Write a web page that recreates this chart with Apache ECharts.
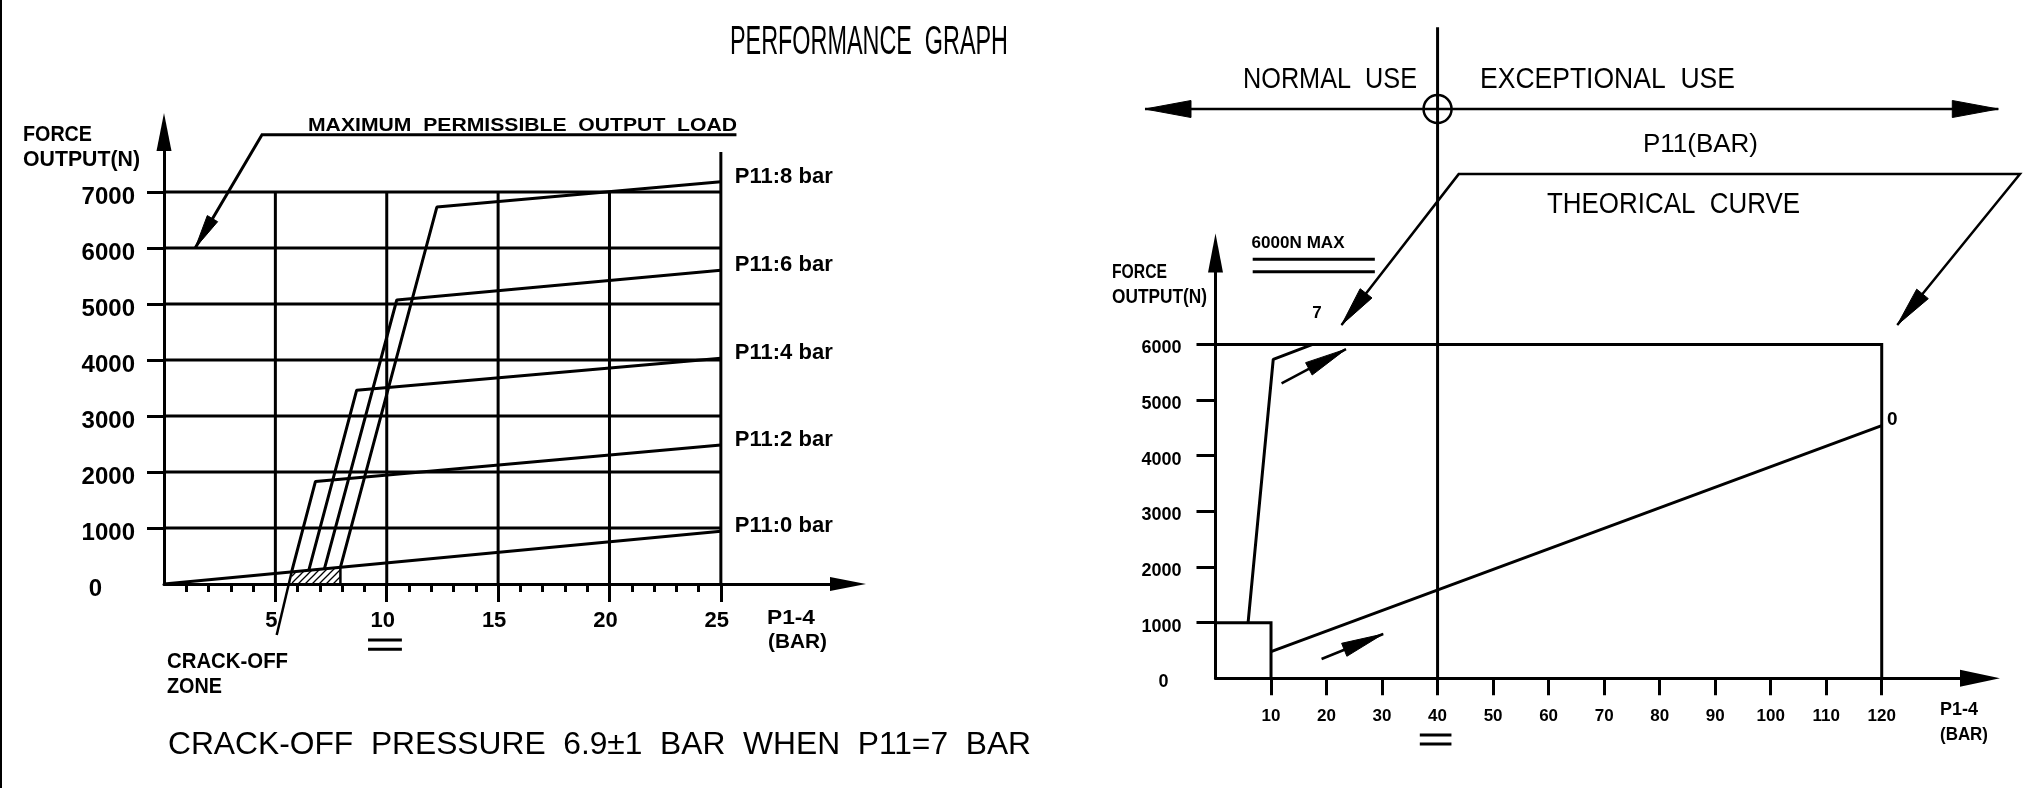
<!DOCTYPE html>
<html>
<head>
<meta charset="utf-8">
<title>Performance graph</title>
<script src="https://cdn.jsdelivr.net/npm/echarts@6/dist/echarts.min.js"></script>
<style>
html, body { margin: 0; padding: 0; background: #fff; }
#main { width: 2033px; height: 788px; }
</style>
</head>
<body>
<div id="main"></div>
<script>
// ---------- left graph : force output vs P1-4, one curve per P11 ----------
var p11Names = ['P11:0 bar', 'P11:2 bar', 'P11:4 bar', 'P11:6 bar', 'P11:8 bar'];
var p11_0 = [[0, 0], [25, 940]];
var p11_2 = [[5.73, 215], [6.8, 1830], [25, 2480]];
var p11_4 = [[6.5, 245], [8.65, 3460], [25, 4030]];
var p11_6 = [[7.2, 270], [10.45, 5070], [25, 5600]];
var p11_8 = [[7.92, 298], [12.25, 6730], [25, 7180]];
var leftXMajor = [5, 10, 15, 20, 25];
var leftXMinor = [1, 2, 3, 4, 5, 6, 7, 8, 9, 10, 11, 12, 13, 14, 15, 16, 17, 18, 19, 20, 21, 22, 23, 24, 25];
var leftYTicks = [0, 1000, 2000, 3000, 4000, 5000, 6000, 7000];
var crackZone = [[5.73, 215], [7.92, 298]];
var crackLeader = [[5.73, 215], [5.06, -910]];
var maxLoadLeader = [[25.7, 8020], [4.4, 8020], [1.4, 6000]];
var leftEqualMark = [[9.16, 10.68], [-1000, -1166]];
var line25Top = 7710;

// ---------- right graph : theoretical curves ----------
var rightXTicks = [10, 20, 30, 40, 50, 60, 70, 80, 90, 100, 110, 120];
var rightYTicks = [0, 1000, 2000, 3000, 4000, 5000, 6000];
var curve7 = [[5.87, 1000], [10.4, 5730], [17.5, 6000]];
var curve0 = [[10, 480], [120, 4540]];
var startBox = [[0, 1000], [10, 1000], [10, 0]];
var maxFrame = [[0, 6000], [120, 6000], [120, 0]];
var useDivider = [[40, 0], [40, 11700]];
var useArrow = [[-12.7, 10230], [141, 10230]];
var theoLeader = [[22.7, 6350], [43.8, 9060], [144.9, 9060], [122.8, 6350]];
var arrow7 = [[11.9, 5300], [23.5, 5915]];
var arrow0 = [[19.1, 347], [30.2, 796]];
var maxUnderline = [[6.7, 28.7], [7529, 7306]];
var rightEqualMark = [[36.8, 42.5], [-1019, -1180]];

var FONT = 'Liberation Sans, Arial, sans-serif';
var mctx = document.createElement('canvas').getContext('2d');

// text squeezed/stretched to the width it has in the drawing
function textEl(x, y, text, size, weight, width, align) {
  mctx.font = weight + ' ' + size + 'px ' + FONT;
  var w = mctx.measureText(text).width;
  return {
    type: 'text', x: x, y: y, scaleX: width ? width / w : 1,
    style: { text: text, fontSize: size, fontWeight: weight, fontFamily: FONT, fill: '#000',
      align: align || 'left', verticalAlign: 'middle' }
  };
}

function seg(api, a, b, w) {
  var p = api.coord(a), q = api.coord(b);
  return { type: 'line', shape: { x1: p[0], y1: p[1], x2: q[0], y2: q[1] },
    style: { stroke: '#000', lineWidth: w || 3 } };
}
function poly(api, pts, w) {
  return { type: 'polyline', shape: { points: pts.map(function (d) { return api.coord(d); }) },
    style: { stroke: '#000', fill: null, lineWidth: w || 3 } };
}
function head(api, tipD, fromD, len, wid) {
  var t = api.coord(tipD), f = api.coord(fromD);
  var dx = t[0] - f[0], dy = t[1] - f[1], d = Math.sqrt(dx * dx + dy * dy);
  dx /= d; dy /= d;
  var bx = t[0] - dx * len, by = t[1] - dy * len;
  var nx = -dy * wid / 2, ny = dx * wid / 2;
  return { type: 'polygon', shape: { points: [t, [bx + nx, by + ny], [bx - nx, by - ny]] },
    style: { fill: '#000', stroke: '#000', lineWidth: 1 } };
}

// hatch for the crack-off zone
var hatch = document.createElement('canvas');
hatch.width = hatch.height = 7;
var hc = hatch.getContext('2d');
hc.strokeStyle = '#000'; hc.lineWidth = 1.3;
hc.beginPath();
hc.moveTo(-1, 8); hc.lineTo(8, -1);
hc.moveTo(-1, 1); hc.lineTo(1, -1);
hc.moveTo(6, 8); hc.lineTo(8, 6);
hc.stroke();

function renderLeft(params, api) {
  var c = [];
  leftYTicks.forEach(function (v) { if (v > 0) c.push(seg(api, [0, v], [25, v])); });
  leftXMajor.forEach(function (v) { c.push(seg(api, [v, 0], [v, v === 25 ? line25Top : 7000])); });
  var z = crackZone;
  c.push({ type: 'polygon', shape: { points: [api.coord([z[0][0], 0]), api.coord(z[0]), api.coord(z[1]), api.coord([z[1][0], 0])] },
    style: { fill: { image: hatch, repeat: 'repeat' }, stroke: null } });
  c.push(seg(api, [z[1][0], 0], z[1], 2.5));
  c.push(seg(api, crackLeader[0], crackLeader[1], 2.5));
  c.push(poly(api, maxLoadLeader, 3));
  c.push(head(api, maxLoadLeader[2], maxLoadLeader[1], 34, 12));
  leftEqualMark[1].forEach(function (y) { c.push(seg(api, [leftEqualMark[0][0], y], [leftEqualMark[0][1], y], 3)); });
  return { type: 'group', children: c };
}

function renderRight(params, api) {
  var c = [];
  c.push(poly(api, startBox, 3));
  c.push(poly(api, maxFrame, 3));
  c.push(seg(api, useDivider[0], useDivider[1], 3));
  c.push(seg(api, useArrow[0], useArrow[1], 2.5));
  c.push(head(api, useArrow[0], useArrow[1], 46, 17));
  c.push(head(api, useArrow[1], useArrow[0], 46, 17));
  var cc = api.coord([useDivider[0][0], useArrow[0][1]]);
  c.push({ type: 'circle', shape: { cx: cc[0], cy: cc[1], r: 14 }, style: { fill: null, stroke: '#000', lineWidth: 2.5 } });
  c.push(poly(api, theoLeader, 2.5));
  c.push(head(api, theoLeader[0], theoLeader[1], 40, 15));
  c.push(head(api, theoLeader[3], theoLeader[2], 40, 15));
  c.push(seg(api, arrow7[0], arrow7[1], 2.5));
  c.push(head(api, arrow7[1], arrow7[0], 42, 14));
  c.push(seg(api, arrow0[0], arrow0[1], 2.5));
  c.push(head(api, arrow0[1], arrow0[0], 42, 14));
  maxUnderline[1].forEach(function (y) { c.push(seg(api, [maxUnderline[0][0], y], [maxUnderline[0][1], y], 3)); });
  rightEqualMark[1].forEach(function (y) { c.push(seg(api, [rightEqualMark[0][0], y], [rightEqualMark[0][1], y], 3)); });
  var p = api.coord([6.5, 7825]);
  c.push(textEl(p[0], p[1], '6000N MAX', 17, 'bold', 93));
  p = api.coord([18.3, 6564]);
  c.push(textEl(p[0], p[1], '7', 17, 'bold', 0, 'center'));
  p = api.coord([121.9, 4641]);
  c.push(textEl(p[0], p[1], '0', 19, 'bold', 0, 'center'));
  return { type: 'group', children: c };
}

var axisStyle = { color: '#000', width: 3 };
var lblBold = function (size) { return { color: '#000', fontSize: size, fontWeight: 'bold', fontFamily: FONT }; };

function curve(name, data) {
  return {
    type: 'line', name: name, data: data, xAxisIndex: 0, yAxisIndex: 0,
    symbol: 'none', lineStyle: { color: '#000', width: 3 },
    endLabel: { show: true, formatter: function (p) { return p.seriesName; }, color: '#000',
      fontSize: 22, fontWeight: 'bold', fontFamily: FONT, distance: 14, offset: [0, -5] }
  };
}

var option = {
  backgroundColor: '#fff',
  animation: false,
  grid: [
    { left: 164, top: 151, width: 666, height: 433 },
    { left: 1215.5, top: 272, width: 744.5, height: 406.3 }
  ],
  xAxis: [
    { type: 'value', gridIndex: 0, min: 0, max: 29.9, position: 'bottom',
      axisLine: { lineStyle: axisStyle, symbol: ['none', 'triangle'], symbolSize: [14, 36], symbolOffset: [0, 18] },
      axisTick: { customValues: leftXMinor, length: 8, lineStyle: axisStyle },
      axisLabel: { show: false }, splitLine: { show: false } },
    { type: 'value', gridIndex: 0, min: 0, max: 29.9, position: 'bottom', offset: 0,
      axisLine: { show: false },
      axisTick: { customValues: leftXMajor, length: 18, lineStyle: axisStyle },
      axisLabel: Object.assign({ customValues: leftXMajor, margin: 26, padding: [0, 8, 0, 0] }, lblBold(22)),
      splitLine: { show: false } },
    { type: 'value', gridIndex: 1, min: 0, max: 134.1, position: 'bottom',
      axisLine: { lineStyle: axisStyle, symbol: ['none', 'triangle'], symbolSize: [17, 40], symbolOffset: [0, 20] },
      axisTick: { customValues: rightXTicks, length: 17, lineStyle: axisStyle },
      axisLabel: Object.assign({ customValues: rightXTicks, margin: 30 }, lblBold(17)),
      splitLine: { show: false } }
  ],
  yAxis: [
    { type: 'value', gridIndex: 0, min: 0, max: 7730,
      axisLine: { show: true, lineStyle: axisStyle, symbol: ['none', 'triangle'], symbolSize: [15, 38], symbolOffset: [0, 19] },
      axisTick: { show: true, customValues: leftYTicks.slice(1), length: 17, lineStyle: axisStyle },
      axisLabel: Object.assign({ customValues: leftYTicks, margin: 29, padding: [10, 0, 0, 0],
        formatter: function (v) { return v === 0 ? '{z|0}' : String(v); },
        rich: { z: Object.assign({ padding: [0, 33, 0, 0] }, lblBold(24)) } }, lblBold(24)),
      splitLine: { show: false } },
    { type: 'value', gridIndex: 1, min: 0, max: 7301,
      axisLine: { show: true, lineStyle: axisStyle, symbol: ['none', 'triangle'], symbolSize: [15, 39], symbolOffset: [0, 19] },
      axisTick: { show: true, customValues: rightYTicks.slice(1), length: 19, lineStyle: axisStyle },
      axisLabel: Object.assign({ customValues: rightYTicks, margin: 34, padding: [8, 0, 0, 0],
        formatter: function (v) { return v === 0 ? '{z|0}' : String(v); },
        rich: { z: Object.assign({ padding: [0, 13, 0, 0] }, lblBold(18)) } }, lblBold(18)),
      splitLine: { show: false } }
  ],
  series: [
    { type: 'custom', name: 'left drawing', xAxisIndex: 0, yAxisIndex: 0, clip: false, silent: true,
      data: [[0, 0]], renderItem: renderLeft },
    curve(p11Names[0], p11_0),
    curve(p11Names[1], p11_2),
    curve(p11Names[2], p11_4),
    curve(p11Names[3], p11_6),
    curve(p11Names[4], p11_8),
    { type: 'custom', name: 'right drawing', xAxisIndex: 2, yAxisIndex: 1, clip: false, silent: true,
      data: [[0, 0]], renderItem: renderRight },
    { type: 'line', name: '7', data: curve7, xAxisIndex: 2, yAxisIndex: 1, symbol: 'none',
      lineStyle: { color: '#000', width: 3 } },
    { type: 'line', name: '0', data: curve0, xAxisIndex: 2, yAxisIndex: 1, symbol: 'none',
      lineStyle: { color: '#000', width: 3 } }
  ],
  graphic: { elements: [
    { type: 'line', shape: { x1: 1, y1: 0, x2: 1, y2: 788 }, style: { stroke: '#000', lineWidth: 2 } },
    textEl(730, 43, 'PERFORMANCE  GRAPH', 40, 'normal', 278),
    textEl(23, 135, 'FORCE', 22, 'bold', 69),
    textEl(23, 160, 'OUTPUT(N)', 22, 'bold', 117),
    textEl(308, 126, 'MAXIMUM  PERMISSIBLE  OUTPUT  LOAD', 19, 'bold', 429),
    textEl(767, 618, 'P1-4', 21, 'bold', 48),
    textEl(768, 642, '(BAR)', 21, 'bold', 59),
    textEl(167, 662, 'CRACK-OFF', 22, 'bold', 121),
    textEl(167, 687, 'ZONE', 22, 'bold', 55),
    textEl(168, 745, 'CRACK-OFF  PRESSURE  6.9\u00B11  BAR  WHEN  P11=7  BAR', 32, 'normal', 863),
    textEl(1243, 80, 'NORMAL  USE', 30, 'normal', 174),
    textEl(1480, 80, 'EXCEPTIONAL  USE', 30, 'normal', 255),
    textEl(1643, 145, 'P11(BAR)', 26, 'normal', 115),
    textEl(1547, 205, 'THEORICAL  CURVE', 30, 'normal', 253),
    textEl(1112, 272, 'FORCE', 21, 'bold', 55),
    textEl(1112, 297, 'OUTPUT(N)', 21, 'bold', 95),
    textEl(1940, 710, 'P1-4', 18, 'bold', 38),
    textEl(1940, 735, '(BAR)', 18, 'bold', 48)
  ] }
};

var chart = echarts.init(document.getElementById('main'));
chart.setOption(option);
</script>
</body>
</html>
